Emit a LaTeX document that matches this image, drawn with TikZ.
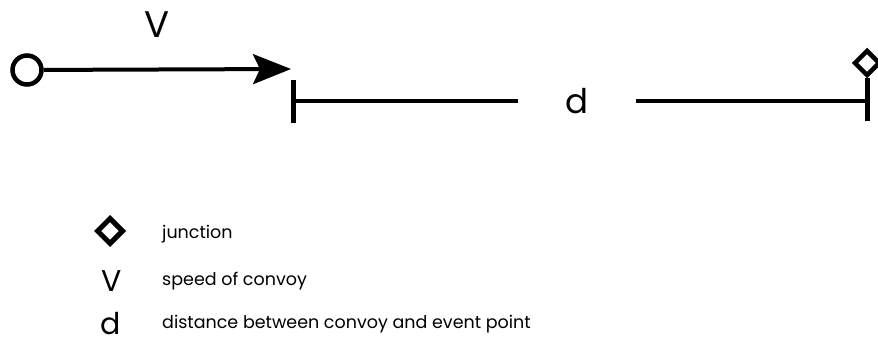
\documentclass[tikz,border=0pt]{standalone}
\usepackage{fontspec}
\setmainfont{Poppins}
\usetikzlibrary{arrows.meta,shapes.geometric}

\begin{document}
\begin{tikzpicture}[x=1pt, y=-1pt,
  thickline/.style={line width=4pt},
  tickline/.style={line width=5pt},
  junctionmark/.style={draw, diamond, aspect=1, inner sep=0pt, line width=4.5pt},
  legendtext/.style={anchor=base west, inner sep=0pt, font=\fontsize{17.5}{21}\selectfont}]
\def\legendx{162}
\def\symbolfont{\fontsize{30}{32}\selectfont}
\useasboundingbox (0,0) rectangle (878,350);

\begin{scope} % CONVOY AND SPEED
\node [draw, circle, line width=4.5pt, minimum size=29pt, inner sep=0pt] (convoy) at (27,70) {};
\coordinate (vtip) at (291,69);
\draw [thickline, -{Stealth[length=38pt, width=30pt, inset=7pt]}] (convoy) -- (vtip);
\node [font=\fontsize{37}{40}\selectfont] (vlabel) at (157,25) {V};
\end{scope}

\begin{scope} % DISTANCE TO JUNCTION
\coordinate (dstart) at (293,101);
\coordinate (dend) at (866,101);
\node [minimum width=118pt, inner sep=0pt, font=\fontsize{34}{36}\selectfont] (dlabel) at (577,101) {d};
\draw [thickline] (dstart) -- (dlabel);
\draw [thickline] (dlabel) -- (dend);
\draw [tickline] (dstart) ++(0,-21) -- ++(0,43);
\node [junctionmark, minimum size=26pt] (junction) at (867,63) {};
\draw [tickline] (junction.south) -- ++(0,43);
\end{scope}

\begin{scope} % LEGEND
\node [junctionmark, minimum size=27pt, line width=5pt] (legjunction) at (110,231) {};
\node [legendtext] (legjunctiontext) at (\legendx,238) {junction};
\node [font=\symbolfont] (legspeed) at (112,281) {V};
\node [legendtext] (legspeedtext) at (\legendx,285) {speed of convoy};
\node [font=\symbolfont] (legdist) at (111,324) {d};
\node [legendtext] (legdisttext) at (\legendx,328) {distance between convoy and event point};
\end{scope}
\end{tikzpicture}
\end{document}
